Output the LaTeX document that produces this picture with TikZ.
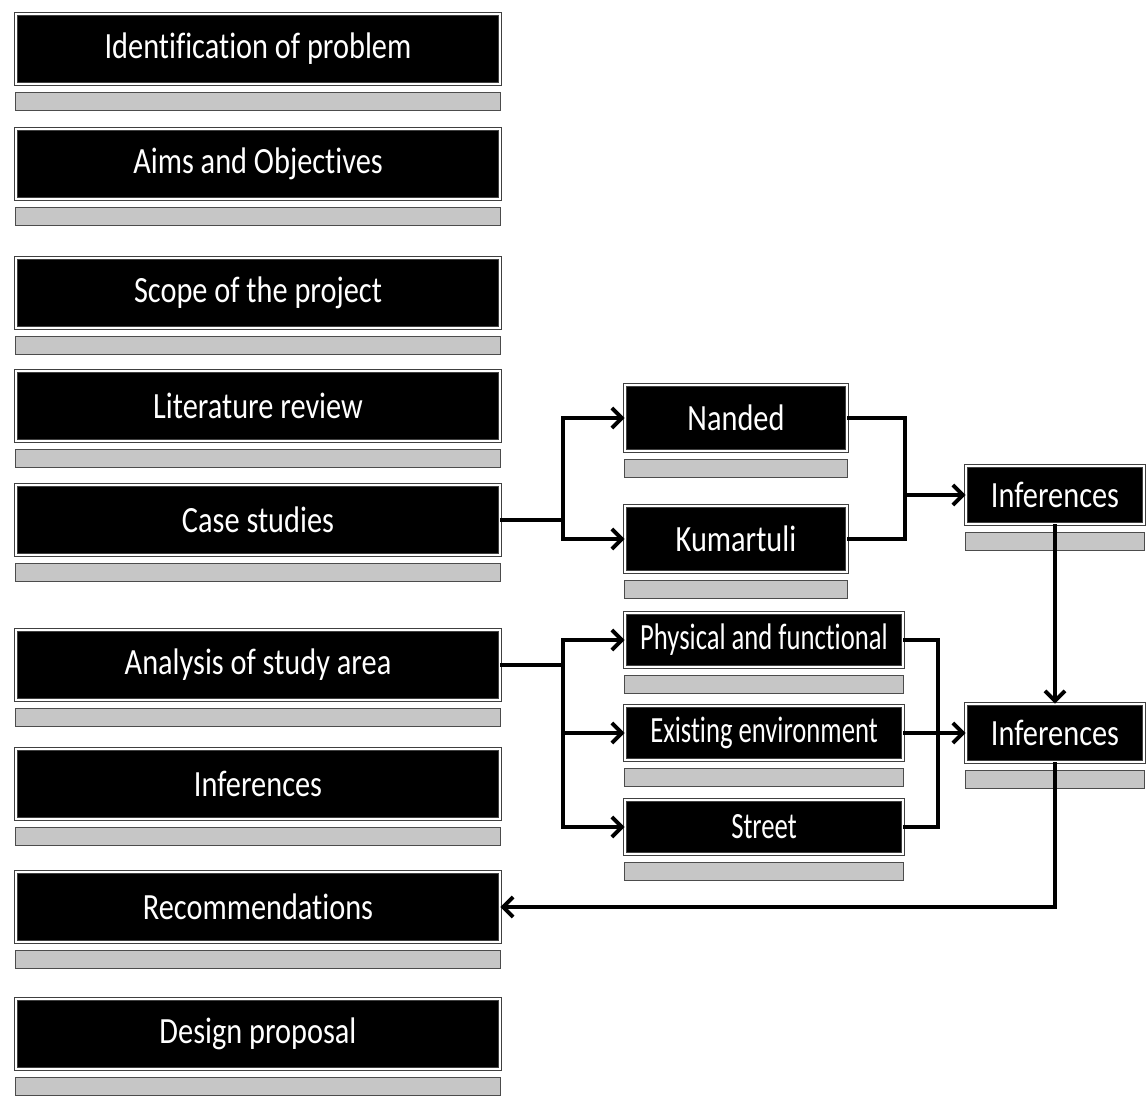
\documentclass[tikz,border=0pt]{standalone}
\usepackage{fontspec}
\setmainfont{Carlito}
\newfontfamily\boxfont[FakeStretch=0.82, Ligatures=NoCommon]{Carlito}
\newfontfamily\areafont[FakeStretch=0.72, Ligatures=NoCommon]{Carlito}
\usetikzlibrary{positioning, arrows.meta, calc}
\tikzset{
  stage/.style={
	draw=black!75, double=white, double distance=0.8pt, % thin framed edge
	fill=black, text=white, inner sep=0pt,
	font=\boxfont\fontsize{18.5}{20}\selectfont,
	minimum width=242pt, minimum height=35pt,
  },
  case/.style={stage, minimum width=111pt, minimum height=33pt},
  area/.style={stage, minimum width=139pt, minimum height=27pt, font=\areafont\fontsize{18.5}{20}\selectfont},
  infer/.style={stage, minimum width=89pt, minimum height=29pt},
  link/.style={line width=1.6pt},
  flow/.style={link, -{Straight Barb[length=5pt, width=10pt, line width=1.9pt]}},
  mirror/.style={fill=gray!45, draw=black!70, line width=0.6pt},
}
\begin{document}
\begin{tikzpicture}[x=0.5pt, y=-0.5pt]
\useasboundingbox (0,0) rectangle (1148,1119);
% main column
\node[stage] (ident) at (258,49) {Identification of problem};
\node[stage] (aims) at (258,164) {Aims and Objectives};
\node[stage] (scope) at (258,293) {Scope of the project};
\node[stage] (review) at (258,406) {Literature review};
\node[stage] (cases) at (258,520) {Case studies};
\node[stage] (analysis) at (258,665) {Analysis of study area};
\node[stage] (infer) at (258,784) {Inferences};
\node[stage] (recom) at (258,907) {Recommendations};
\node[stage] (design) at (258,1034) {Design proposal};
% case studies branch
\node[case] (nanded) at (736,418) {Nanded};
\node[case] (kumar) at (736,539) {Kumartuli};
\node[infer] (inferA) at (1055,495) {Inferences};
% study area branch
\node[area] (phys) at (764,640) {Physical and functional};
\node[area] (exist) at (764,733) {Existing environment};
\node[area] (street) at (764,827) {Street};
\node[infer] (inferB) at (1055,733) {Inferences};
% reflections under the boxes
\foreach \n in {ident,aims,scope,review,cases,analysis,infer,recom,design,nanded,kumar,phys,exist,street,inferA,inferB}
  \draw[mirror] ($(\n.south west)+(0,8)$) rectangle ($(\n.south east)+(0,26)$);
\coordinate (splitA) at (563,520);
\coordinate (joinA) at (905,495);
\coordinate (splitB) at (563,665);
\coordinate (joinB) at (938,733);
\draw[link] (cases.east) -- (splitA);
\draw[flow] (splitA) |- (nanded);
\draw[flow] (splitA) |- (kumar);
\draw[link] (nanded.east) -| (joinA);
\draw[link] (kumar.east) -| (joinA);
\draw[flow] (joinA) -- (inferA);
\draw[link] (analysis.east) -- (splitB);
\draw[flow] (splitB) |- (phys);
\draw[flow] (splitB) |- (exist);
\draw[flow] (splitB) |- (street);
\draw[link] (phys.east) -| (joinB);
\draw[link] (street.east) -| (joinB);
\draw[flow] (exist.east) -- (inferB);
\draw[flow] (inferA) -- (inferB);
\draw[flow] (inferB.south) |- (recom.east);
\end{tikzpicture}
\end{document}
